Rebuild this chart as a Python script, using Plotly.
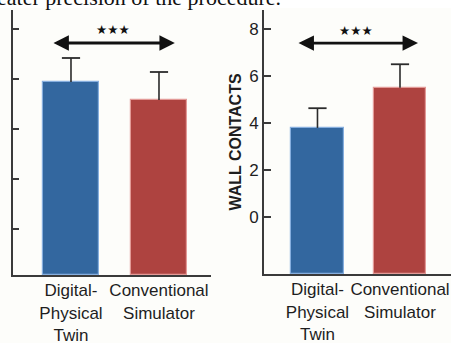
import plotly.graph_objects as go

# ---- data ----
categories = ["Digital-<br>Physical<br>Twin", "Conventional<br>Simulator"]
left_values = [2.94, 2.58]
left_errors = [0.48, 0.56]
right_values = [3.79, 5.50]
right_errors = [0.84, 1.00]
right_ticks = [0, 2, 4, 6, 8]
left_ticks = [0, 1, 2, 3, 4]
right_title = "WALL CONTACTS"
significance = "★★★"
caption = "eater precision of the procedure."

W, H = 451, 343
BLUE = "#33679f"
RED = "#ae4340"
colors = [BLUE, RED]
edge = ["#86aede", "#e39a97"]
AX = "#3a3a3a"
ERR = "#2b2b2b"

left_range = [-0.92, 4.38]
right_range = [-2.426, 8.809]

fig = go.Figure()


def add_panel(values, errors, rng, xa, ya, width):
    fig.add_trace(go.Bar(
        x=categories, y=[v - rng[0] for v in values], base=rng[0],
        marker=dict(color=colors, line=dict(color=edge, width=1.2)),
        width=width, xaxis=xa, yaxis=ya, showlegend=False))
    # error stems (upper only) with cap markers on top
    fig.add_trace(go.Scatter(
        x=categories, y=[v + e for v, e in zip(values, errors)], mode="markers",
        marker=dict(symbol="line-ew-open", size=13, color=ERR,
                    line=dict(color=ERR, width=1.8)),
        error_y=dict(type="data", array=[0] * len(errors), arrayminus=errors,
                     symmetric=False, color=ERR, thickness=1.6, width=0),
        xaxis=xa, yaxis=ya, showlegend=False, hoverinfo="skip"))


add_panel(left_values, left_errors, left_range, "x", "y", 0.636)
add_panel(right_values, right_errors, right_range, "x2", "y2", 0.64)

SANS = "Liberation Sans, Arial, sans-serif"
font = dict(family=SANS, size=17, color="#1e1e1e")

axis_common = dict(showline=True, linecolor=AX, linewidth=2, showgrid=False,
                   zeroline=False, automargin=False)

fig.update_layout(
    width=W, height=H,
    margin=dict(l=0, r=0, t=0, b=0),
    paper_bgcolor="#fdfdfa", plot_bgcolor="#fdfdfa",
    font=font,
    bargap=0,
    xaxis=dict(domain=[13 / W, 211 / W], anchor="y", type="category",
               range=[-0.659, 1.591], ticks="", tickfont=font, tickangle=0,
               ticklabelstandoff=-1, **axis_common),
    yaxis=dict(domain=[68 / H, 333 / H], anchor="x", range=left_range,
               tickvals=left_ticks, ticks="inside", ticklen=6, tickwidth=2, tickcolor=AX,
               showticklabels=False, **axis_common),
    xaxis2=dict(domain=[264 / W, 1], anchor="y2", type="category",
                range=[-0.648, 1.618], ticks="", tickfont=font, tickangle=0,
                ticklabelstandoff=-1, **axis_common),
    yaxis2=dict(domain=[69 / H, 333 / H], anchor="x2", range=right_range,
                tickvals=right_ticks, ticks="inside", ticklen=7, tickwidth=2, tickcolor=AX,
                tickfont=dict(family=SANS, size=17, color="#1e1e1e"),
                title=dict(text="<b>" + right_title + "</b>", standoff=4,
                           font=dict(family=SANS, size=16, color="#1e1e1e")),
                **axis_common),
)

# significance arrows
arrow = dict(showarrow=True, arrowside="end+start", arrowhead=2, arrowsize=1.1,
             arrowwidth=2.8, arrowcolor="#111", text="")
fig.add_annotation(x=1.18, y=3.72, ax=-0.216, ay=3.72, axref="x", ayref="y",
                   xref="x", yref="y", **arrow)
fig.add_annotation(x=1.218, y=7.40, ax=-0.248, ay=7.40, axref="x2", ayref="y2",
                   xref="x2", yref="y2", **arrow)
star_font = dict(family="DejaVu Sans", size=12.5, color="#111")
fig.add_annotation(x=0.477, y=(229 - 30) / 50, xref="x", yref="y", text=significance,
                   showarrow=False, font=star_font)
fig.add_annotation(x=0.467, y=(217 - 30) / 23.5, xref="x2", yref="y2", text=significance,
                   showarrow=False, font=star_font)

# cropped caption text at top
fig.add_shape(type="rect", xref="paper", yref="paper", x0=0, x1=1, y0=(H - 8) / H, y1=1,
              fillcolor="white", line=dict(width=0), layer="below")
fig.add_annotation(x=283 / W, y=(H - 12) / H, xref="paper", yref="paper", xanchor="right",
                   yanchor="bottom", text=caption, showarrow=False,
                   font=dict(family="Liberation Serif, Times New Roman, serif", size=22, color="#111"))

fig.write_html("out.html", config={"displayModeBar": False},
               post_script="document.body.style.margin='0';document.body.style.overflow='hidden';")
